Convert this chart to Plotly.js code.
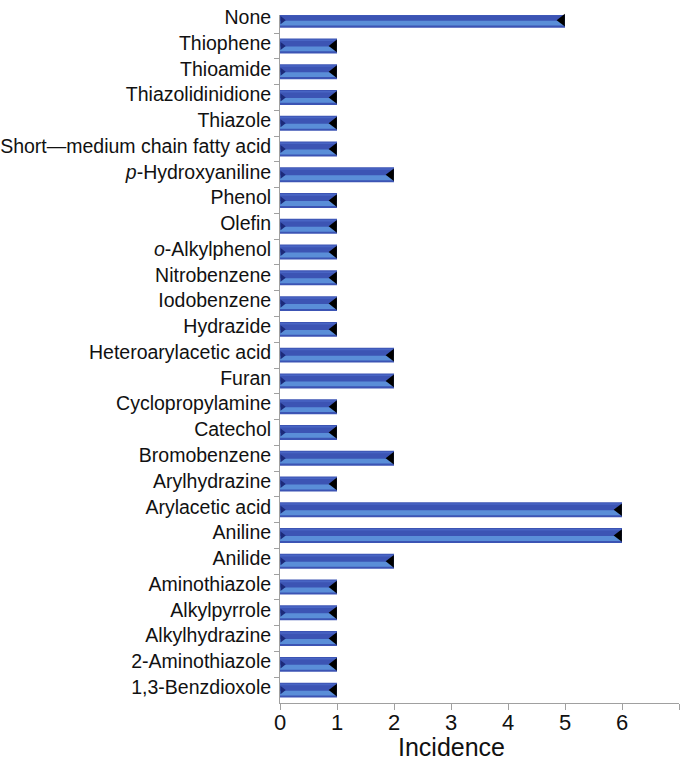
<!DOCTYPE html>
<html>
<head>
<meta charset="utf-8">
<script src="https://cdn.plot.ly/plotly-3.0.1.min.js"></script>
<style>html,body{margin:0;padding:0;background:#fff;}#chart{width:685px;height:771px;}</style>
</head>
<body>
<div id="chart"></div>
<script>
const categories = [
  "None", "Thiophene", "Thioamide", "Thiazolidinidione", "Thiazole",
  "Short\u2014medium chain fatty acid", "<i>p</i>-Hydroxyaniline", "Phenol", "Olefin",
  "<i>o</i>-Alkylphenol", "Nitrobenzene", "Iodobenzene", "Hydrazide",
  "Heteroarylacetic acid", "Furan", "Cyclopropylamine", "Catechol", "Bromobenzene",
  "Arylhydrazine", "Arylacetic acid", "Aniline", "Anilide", "Aminothiazole",
  "Alkylpyrrole", "Alkylhydrazine", "2-Aminothiazole", "1,3-Benzdioxole"
];
const incidence = [5, 1, 1, 1, 1, 1, 2, 1, 1, 1, 1, 1, 1, 2, 2, 1, 1, 2, 1, 6, 6, 2, 1, 1, 1, 1, 1];
const xTicks = [0, 1, 2, 3, 4, 5, 6, 7];
const xTickText = ["0", "1", "2", "3", "4", "5", "6", ""];
const xTitle = "Incidence";

const font = "Arial, 'Liberation Sans', sans-serif";

const traces = [
  { type: "bar", orientation: "h", x: incidence, y: categories,
    width: 0.58, offset: -0.29, marker: { color: "#3c54b4", line: { width: 0 } },
    hoverinfo: "skip", showlegend: false },
  { type: "bar", orientation: "h", x: incidence, y: categories,
    width: 0.06, offset: -0.25, marker: { color: "#4865c4", line: { width: 0 } },
    hoverinfo: "skip", showlegend: false },
  { type: "bar", orientation: "h", x: incidence, y: categories,
    width: 0.19, offset: 0.02, marker: { color: "#5a8ed8", line: { width: 0 } },
    hoverinfo: "skip", showlegend: false },
  { type: "scatter", mode: "markers", x: incidence.map(v => v - 0.05), y: categories,
    marker: { symbol: "triangle-left", size: 11, color: "#000000" },
    hoverinfo: "skip", showlegend: false, cliponaxis: false },
  { type: "scatter", mode: "markers", x: incidence.map(() => 0.04), y: categories,
    marker: { symbol: "triangle-right", size: 7, color: "#1c2a7a" },
    hoverinfo: "skip", showlegend: false, cliponaxis: false }
];

const layout = {
  width: 685, height: 771,
  margin: { l: 280, r: 6, t: 15, b: 68 },
  paper_bgcolor: "#ffffff", plot_bgcolor: "#ffffff",
  barmode: "overlay",
  showlegend: false,
  font: { family: font, color: "#111111" },
  xaxis: {
    range: [0, 7], tickvals: xTicks, ticktext: xTickText,
    showgrid: false, zeroline: false,
    showline: true, linecolor: "#a0a0a0", linewidth: 1,
    ticks: "outside", ticklen: 6, tickcolor: "#a0a0a0",
    tickfont: { size: 22, family: font, color: "#111111" },
    ticklabelstandoff: -6
  },
  yaxis: {
    type: "category", categoryorder: "array", categoryarray: categories,
    range: [26.5, -0.2],
    showgrid: false, zeroline: false,
    showline: true, linecolor: "#a0a0a0", linewidth: 1,
    ticks: "outside", ticklen: 5, tickcolor: "#a0a0a0", tickson: "boundaries",
    tickfont: { size: 19.5, family: font, color: "#111111" },
    ticklabelshift: 3, ticklabelstandoff: 4
  },
  annotations: [
    { text: xTitle, xref: "x", x: 3, yref: "paper", y: 0, yshift: -44,
      xanchor: "center", yanchor: "middle", showarrow: false,
      font: { size: 25, family: font, color: "#111111" } }
  ],
  hovermode: false
};

Plotly.newPlot("chart", traces, layout, { displayModeBar: false, staticPlot: true });
</script>
</body>
</html>
